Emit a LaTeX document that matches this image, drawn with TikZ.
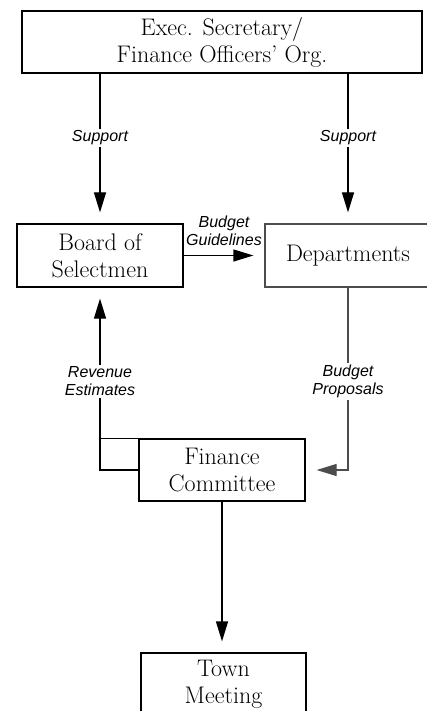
\documentclass[tikz,border=0pt]{standalone}
\usepackage{fontspec}
\newfontfamily\labelfont{Liberation Sans}
\usepackage{tikz}
\usetikzlibrary{arrows.meta}
\tikzstyle{unit}=[rectangle, draw=black, line width=1.2pt, align=center, inner sep=0pt,
        text centered, font=\fontsize{24}{27}\selectfont]
\tikzstyle{flow}=[draw=black, line width=1.2pt, -{Triangle[length=20pt,width=12pt]}, shorten >=11pt]
\tikzstyle{note}=[fill=white, align=center, inner sep=2pt, font=\labelfont\itshape\fontsize{16}{18}\selectfont]

\begin{document}
\begin{tikzpicture}[x=1pt, y=-1pt]
\clip (0,0) rectangle (427,711);
\node [unit, minimum width=400pt, minimum height=62pt] (exec) at (222,42) {Exec. Secretary/\\Finance Officers' Org.};
\node [unit, minimum width=166pt, minimum height=63pt] (board) at (100,255.5) {Board of\\Selectmen};
\node [unit, draw=black!70, minimum width=166pt, minimum height=63pt] (dept) at (348,255.5) {Departments};
\node [unit, minimum width=166pt, minimum height=62pt] (fin) at (222,470) {Finance\\Committee};
\node [unit, minimum width=165pt, minimum height=62pt] (town) at (223.5,684) {Town\\Meeting};
\draw [flow] (exec.south -| board.north) -- node[note, pos=0.43]{Support} (board.north);
\draw [flow] (exec.south -| dept.north) -- node[note, pos=0.43]{Support} (dept.north);
\draw [flow] (board.east) -- node[note, fill=none, above=7pt]{Budget\\Guidelines} (dept.west);
\draw [flow] (fin.west) -| node[note, pos=0.743]{Revenue\\Estimates} (board.south);
\draw [line width=1.2pt] (fin.north west) -- (fin.north west -| board.south);
\draw [flow, draw=black!70] (dept.south) |- node[note, pos=0.257]{Budget\\Proposals} (fin.east);
\draw [flow] (fin.south) -- (fin.south |- town.north);
\end{tikzpicture}
\end{document}
